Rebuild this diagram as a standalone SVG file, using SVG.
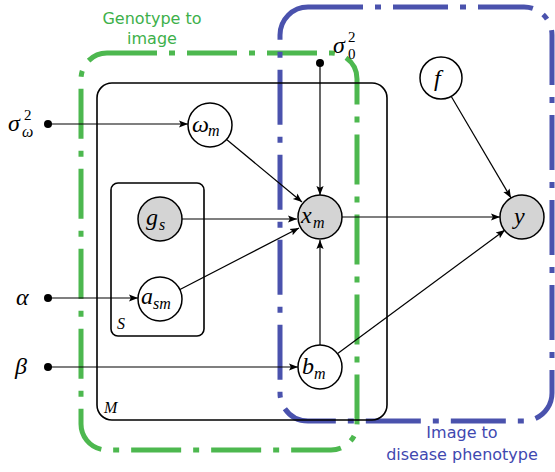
<svg xmlns="http://www.w3.org/2000/svg" width="555" height="472" viewBox="0 0 555 472">
<defs>
<style>
.node{fill:#fff;stroke:#000;stroke-width:1.5}
.obs{fill:#d4d4d4;stroke:#000;stroke-width:1.5}
.plate{fill:none;stroke:#000;stroke-width:1.6}
.edge{fill:none;stroke:#000;stroke-width:1.2;marker-end:url(#arr)}
.var{font-family:"Liberation Serif","DejaVu Serif",serif;font-style:italic;font-size:24px;fill:#000}
.sub{font-family:"Liberation Serif","DejaVu Serif",serif;font-style:italic;font-size:16px;fill:#000}
.num{font-family:"Liberation Serif","DejaVu Serif",serif;font-size:15px;fill:#000}
.green{fill:none;stroke:#4db84f;stroke-width:5;stroke-dasharray:50 12 6 12}
.blue{fill:none;stroke:#4a52ad;stroke-width:5;stroke-dasharray:55 12 6 12}
.gl{font-family:"DejaVu Sans",sans-serif;font-size:16px;fill:#3db04a;text-anchor:middle}
.bl{font-family:"DejaVu Sans",sans-serif;font-size:16px;fill:#3f48b0;text-anchor:middle}
</style>
<marker id="arr" viewBox="0 0 10 10" refX="10" refY="5" markerWidth="9" markerHeight="9" markerUnits="userSpaceOnUse" orient="auto">
<path d="M0,1 L10,5 L0,9 L2,5 Z" fill="#000"/>
</marker>
</defs>
<rect width="555" height="472" fill="#fff"/>

<g id="region-genotype">
<rect class="green" x="81" y="53" width="276" height="397" rx="26"/>
<text class="gl" x="152" y="24">Genotype to</text>
<text class="gl" x="152" y="44">image</text>
</g>
<g id="region-phenotype">
<rect class="blue" x="280" y="7" width="272" height="414" rx="28"/>
<text class="bl" x="462" y="438">Image to</text>
<text class="bl" x="462" y="460">disease phenotype</text>
</g>

<g id="plate-M">
<rect class="plate" x="97" y="83" width="290" height="337" rx="15"/>
<text class="sub" x="104" y="413">M</text>
</g>
<g id="plate-S">
<rect class="plate" x="111" y="183" width="93" height="153" rx="7"/>
<text class="sub" x="117" y="329">S</text>
</g>

<g id="connectors">
<line class="edge" x1="48" y1="124" x2="188" y2="124"/>
<line class="edge" x1="226" y1="139" x2="302" y2="202"/>
<line class="edge" x1="182" y1="219" x2="297" y2="219"/>
<line class="edge" x1="179" y1="290" x2="299" y2="228"/>
<line class="edge" x1="320" y1="63" x2="320" y2="195"/>
<line class="edge" x1="320" y1="345" x2="320" y2="240"/>
<line class="edge" x1="48" y1="367" x2="298" y2="367"/>
<line class="edge" x1="48" y1="298" x2="138" y2="298"/>
<line class="edge" x1="342" y1="217" x2="500" y2="217"/>
<line class="edge" x1="451" y1="96" x2="511" y2="198"/>
<line class="edge" x1="337" y1="354" x2="505" y2="230"/>
</g>

<g id="sigma-omega">
<circle cx="48" cy="124" r="4" fill="#000"/>
<text class="var" x="8" y="131">σ</text>
<text class="num" x="24" y="120">2</text>
<text class="sub" x="22" y="137">ω</text>
</g>
<g id="sigma-0">
<circle cx="320" cy="63" r="4" fill="#000"/>
<text class="var" x="333" y="53">σ</text>
<text class="num" x="348" y="42">2</text>
<text class="num" x="348" y="59">0</text>
</g>
<g id="alpha">
<circle cx="48" cy="298" r="4" fill="#000"/>
<text class="var" x="16" y="305">α</text>
</g>
<g id="beta">
<circle cx="48" cy="367" r="4" fill="#000"/>
<text class="var" x="15" y="374">β</text>
</g>

<g id="omega-m">
<circle class="node" cx="210" cy="125" r="22"/>
<text class="var" x="192" y="132">ω</text>
<text class="sub" x="208" y="136">m</text>
</g>
<g id="g-s">
<circle class="obs" cx="160" cy="219" r="22"/>
<text class="var" x="146" y="225">g</text>
<text class="sub" x="159" y="230">s</text>
</g>
<g id="a-sm">
<circle class="node" cx="160" cy="299" r="22"/>
<text class="var" x="141" y="304">a</text>
<text class="sub" x="153" y="309">sm</text>
</g>
<g id="x-m">
<circle class="obs" cx="320" cy="217" r="22"/>
<text class="var" x="301" y="223">x</text>
<text class="sub" x="313" y="228">m</text>
</g>
<g id="b-m">
<circle class="node" cx="320" cy="367" r="22"/>
<text class="var" x="302" y="374">b</text>
<text class="sub" x="314" y="379">m</text>
</g>
<g id="f">
<circle class="node" cx="441" cy="78" r="21"/>
<text class="var" x="434" y="86">f</text>
</g>
<g id="y">
<circle class="obs" cx="522" cy="217" r="22"/>
<text class="var" x="514" y="224">y</text>
</g>
</svg>
